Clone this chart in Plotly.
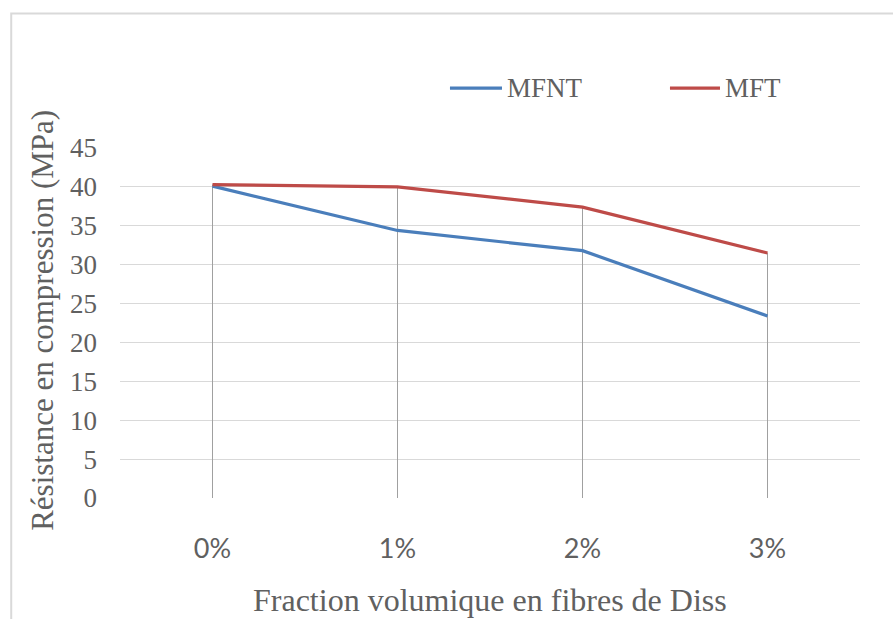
import plotly.graph_objects as go

categories = ["0%", "1%", "2%", "3%"]
mfnt = [40.1, 34.4, 31.8, 23.4]
mft = [40.3, 40.0, 37.4, 31.5]
y_ticks = [0, 5, 10, 15, 20, 25, 30, 35, 40, 45]
series_names = ["MFNT", "MFT"]
series_colors = ["#4a7ebb", "#be4b48"]

SERIF = "Liberation Serif, Times New Roman, serif"
SANS = "Lato, Liberation Sans, sans-serif"
TXT = "#606060"

fig = go.Figure()

# drop lines from the highest point of each category to the axis
drop_x, drop_y = [], []
for c, a, b in zip(categories, mfnt, mft):
    drop_x += [c, c, None]
    drop_y += [0, max(a, b), None]
fig.add_trace(go.Scatter(x=drop_x, y=drop_y, mode="lines",
                         line=dict(color="#a0a0a0", width=1),
                         showlegend=False, hoverinfo="skip"))

for name, vals, col in zip(series_names, [mfnt, mft], series_colors):
    fig.add_trace(go.Scatter(x=categories, y=vals, mode="lines", name=name,
                             line=dict(color=col, width=3.2), showlegend=False))

# manual legend (longer line samples as in the reference)
legend_x = [(0.4459, 0.5162), (0.7432, 0.8108)]
legend_y = 1.171
shapes = [
    dict(type="rect", xref="paper", yref="paper", x0=-0.147, x1=1.2, y0=-0.5, y1=1.384,
         line=dict(color="#d9d9d9", width=2), fillcolor="rgba(0,0,0,0)", layer="below"),
]
annotations = [
    dict(text="Fraction volumique en fibres de Diss", xref="paper", yref="paper",
         x=0.5, y=-0.291, xanchor="center", yanchor="middle", showarrow=False,
         font=dict(family=SERIF, size=32, color=TXT)),
    dict(text="Résistance en compression (MPa)", xref="paper", yref="paper",
         x=-0.105, y=0.507, xanchor="center", yanchor="middle", showarrow=False,
         textangle=-90, font=dict(family=SERIF, size=31, color=TXT)),
]
for (x0, x1), name, col in zip(legend_x, series_names, series_colors):
    shapes.append(dict(type="line", xref="paper", yref="paper", x0=x0, x1=x1,
                       y0=legend_y, y1=legend_y, line=dict(color=col, width=3.2)))
    annotations.append(dict(text=name, xref="paper", yref="paper", x=x1 + 0.004,
                            y=legend_y, xanchor="left", yanchor="middle", showarrow=False,
                            font=dict(family=SERIF, size=27, color=TXT)))

fig.update_layout(
    width=893, height=619,
    margin=dict(l=120, r=33, t=148, b=121, autoexpand=False),
    paper_bgcolor="white", plot_bgcolor="white",
    font=dict(family=SERIF, color=TXT),
    showlegend=False,
    xaxis=dict(type="category", range=[-0.5, 3.5], showgrid=False, zeroline=False,
               showline=False, ticks="", tickfont=dict(family=SANS, size=27, color=TXT),
               ticklabelstandoff=32),
    yaxis=dict(range=[0, 45], tickvals=y_ticks, showgrid=True, gridcolor="#d9d9d9",
               gridwidth=1, zeroline=False, showline=False, ticks="",
               tickfont=dict(family=SERIF, size=27, color=TXT), ticklabelstandoff=22),
    annotations=annotations,
    shapes=shapes,
)

fig.write_html("out.html")
